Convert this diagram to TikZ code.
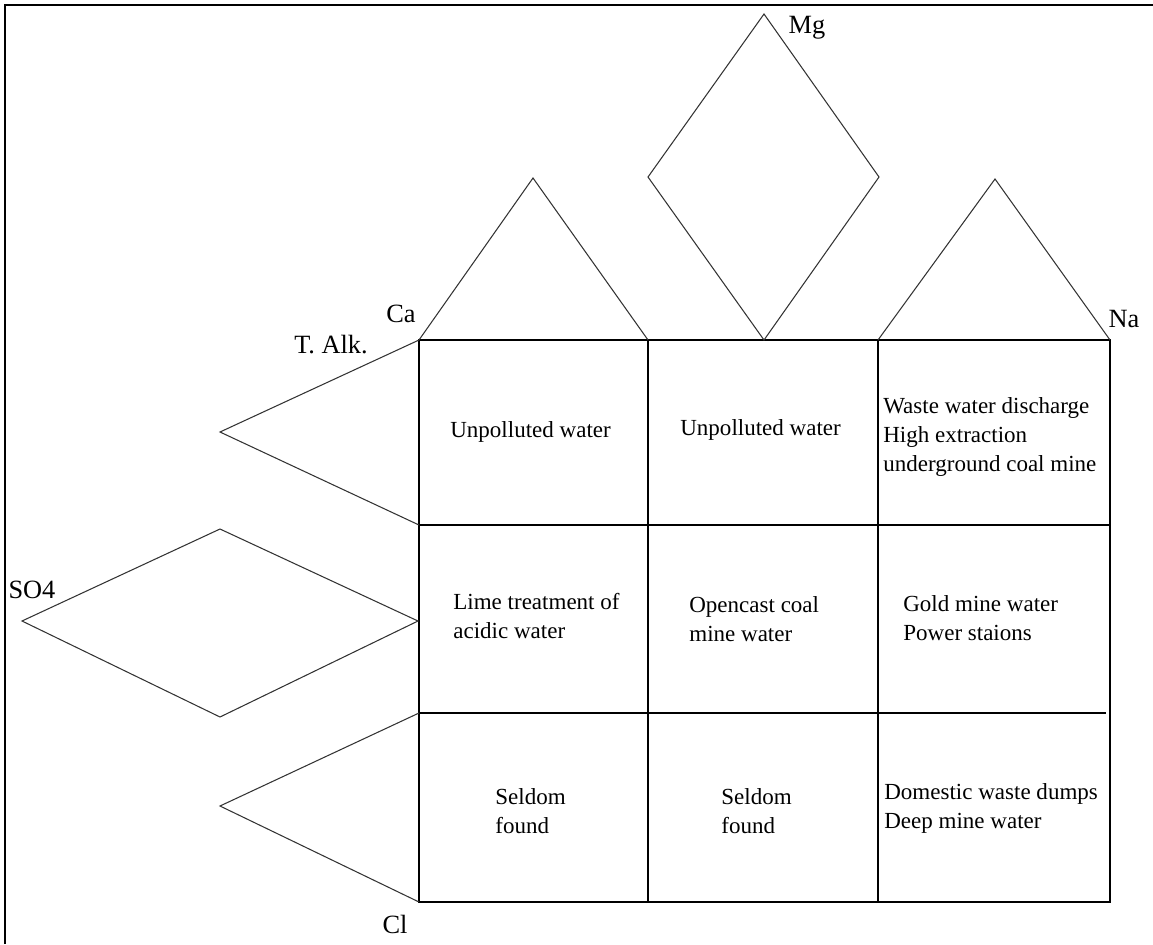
\documentclass[tikz,border=0pt]{standalone}
\usepackage{fontspec}
\setmainfont{Liberation Serif}
\begin{document}
\begin{tikzpicture}[x=0.02cm, y=-0.02cm,
    gridline/.style={line width=0.8pt},
    pieline/.style={line width=0.6pt, black!80},
    ion/.style={font=\fontsize{15}{18}\selectfont, inner sep=0pt, anchor=base},
    cell/.style={font=\fontsize{13.1}{16.5}\selectfont, align=left, inner sep=0pt, anchor=base west}]
        \useasboundingbox (0,0) rectangle (1153,944);
        % Frame
        \draw[line width=1.2pt] (5,944) -- (5,5) -- (1153,5);

        % Grid
        \draw[gridline] (419,340) rectangle (1110,902);
        \foreach \x in {648,878} \draw[gridline] (\x,340) -- (\x,902);
        \draw[gridline] (419,525) -- (1110,525);
        \draw[gridline] (419,713) -- (1106,713);

        % Cation shapes (top)
        \draw[pieline] (419,340) -- (533,178) -- (648,340);
        \draw[pieline] (764,340) -- (648,177) -- (764,14) -- (879,177) -- cycle;
        \draw[pieline] (878,340) -- (995,179) -- (1110,340);

        % Anion shapes (left)
        \draw[pieline] (419,340) -- (220,432) -- (419,525);
        \draw[pieline] (418,621) -- (220,529) -- (22,621) -- (220,717) -- cycle;
        \draw[pieline] (419,713) -- (220,806) -- (419,902);

        % Ion labels
        \node[ion] (ca) at (401,322) {Ca};
        \node[ion] (alk) at (331,353) {T. Alk.};
        \node[ion] (mg) at (807,33) {Mg};
        \node[ion] (na) at (1124,327) {Na};
        \node[ion] (so4) at (32,598) {SO4};
        \node[ion] (cl) at (395,933) {Cl};

        % Cell texts
        \node[cell] (unpol1) at (450,437) {Unpolluted water};
        \node[cell] (unpol2) at (680,435) {Unpolluted water};
        \node[cell] (waste) at (883,471) {Waste water discharge\\High extraction\\underground coal mine};
        \node[cell] (lime) at (453,638) {Lime treatment of\\acidic water};
        \node[cell] (opencast) at (689,641) {Opencast coal\\mine water};
        \node[cell] (gold) at (903,640) {Gold mine water\\Power staions};
        \node[cell] (seldom1) at (495,833) {Seldom\\found};
        \node[cell] (seldom2) at (721,833) {Seldom\\found};
        \node[cell] (domestic) at (884,828) {Domestic waste dumps\\Deep mine water};
    \end{tikzpicture}
\end{document}
